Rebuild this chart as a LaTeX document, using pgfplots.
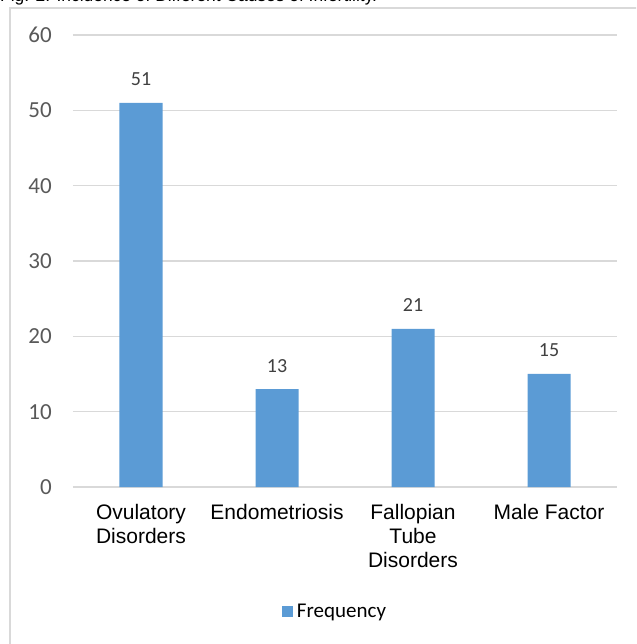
\documentclass[border=0pt]{standalone}
\usepackage{fontspec}
\setmainfont{Carlito}
\newfontfamily\arial{Liberation Sans}
\usepackage{pgfplots}
\pgfplotsset{compat=1.18}
\definecolor{barblue}{HTML}{5B9BD5}
\definecolor{gridgray}{HTML}{D9D9D9}
\definecolor{tickgray}{HTML}{595959}
\definecolor{lblgray}{HTML}{404040}
\begin{document}
\begin{tikzpicture}
\useasboundingbox (-73pt,-157pt) rectangle (563pt,487pt);
\begin{scope}
\clip (-73pt,-157pt) rectangle (563pt,487pt);
\node[anchor=base west, inner sep=0pt, font=\arial\fontsize{17.4}{20}\selectfont] at (-73pt,485pt) {Fig. 2: Incidence of Different Causes of Infertility.};
\draw[gridgray, line width=1.2pt] (-63pt,-200pt) -- (-63pt,479pt) -- (700pt,479pt);
\end{scope}
\begin{axis}[
  at={(0pt,0pt)}, anchor=south west,
  scale only axis, width=544pt, height=452pt,
  xmin=-0.5, xmax=3.5, ymin=0, ymax=60,
  ytick={0,10,20,30,40,50,60},
  xtick={0,1,2,3},
  xticklabels={{Ovulatory\\Disorders},{Endometriosis},{Fallopian\\Tube\\Disorders},{Male Factor}},
  axis line style={draw=none},
  major tick length=0pt,
  ymajorgrids,
  grid style={gridgray, line width=1.2pt},
  /pgf/number format/assume math mode=true,
  yticklabel style={anchor=east, inner sep=0pt, xshift=-21pt, text=tickgray, font=\fontsize{23}{26}\selectfont},
  xticklabel style={anchor=north, inner sep=0pt, yshift=-17.5pt, align=center, font=\arial\fontsize{21}{24}\selectfont},
  ybar, bar width=43pt,
  nodes near coords,
  nodes near coords style={anchor=base, inner sep=0pt, yshift=17pt, text=lblgray, font=\fontsize{20}{22}\selectfont},
  legend style={at={(0.4816,-0.2765)}, anchor=center, draw=none, fill=none, font=\fontsize{21}{23}\selectfont, inner sep=0pt,
    /tikz/every odd column/.append style={column sep=2pt}},
  legend cell align=left,
  legend image code/.code={\fill[barblue] (0pt,-5.5pt) rectangle (11pt,5.5pt);},
]
\addplot[fill=barblue, draw=none] coordinates {(0,51) (1,13) (2,21) (3,15)};
\addlegendentry{Frequency}
\end{axis}
\end{tikzpicture}
\end{document}
